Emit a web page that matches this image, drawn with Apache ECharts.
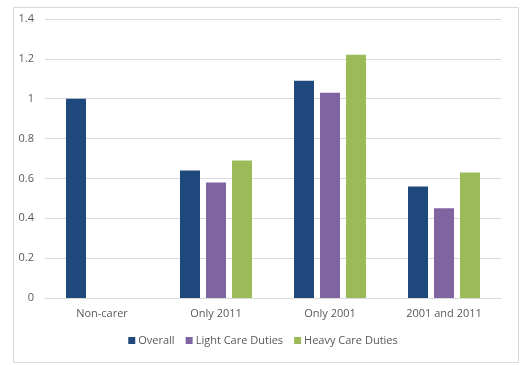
<!DOCTYPE html>
<html><head><meta charset="utf-8">
<script src="https://cdn.jsdelivr.net/npm/echarts@6/dist/echarts.min.js"></script>
<style>html,body{margin:0;padding:0;background:#fff}#c{width:526px;height:365px}</style>
</head><body><div id="c"></div>
<script>
const categories = ['Non-carer', 'Only 2011', 'Only 2001', '2001 and 2011'];
const overall = [1.00, 0.64, 1.09, 0.56];
const lightCare = [null, 0.58, 1.03, 0.45];
const heavyCare = [null, 0.69, 1.22, 0.63];
const seriesNames = ['Overall', 'Light Care Duties', 'Heavy Care Duties'];
const colors = ['#1F497D', '#8064A2', '#9BBB59'];

const font = 'Open Sans, Liberation Sans, sans-serif';
const chart = echarts.init(document.getElementById('c'));
chart.setOption({
  animation: false,
  color: colors,
  graphic: [{
    type: 'rect', left: 11, top: 5,
    shape: { width: 505, height: 355 },
    style: { fill: 'none', stroke: '#D9D9D9', lineWidth: 1 }
  }],
  grid: { left: 45, right: 25, top: 19, bottom: 67 },
  legend: {
    bottom: 14, left: 'center',
    itemWidth: 7, itemHeight: 7, itemGap: 11,
    icon: 'rect',
    textStyle: { color: '#595959', fontSize: 11, fontFamily: font, padding: [0, 0, 0, -2] },
    data: seriesNames
  },
  xAxis: {
    type: 'category', data: categories,
    axisLine: { lineStyle: { color: '#D9D9D9' } },
    axisTick: { show: false },
    axisLabel: { color: '#595959', fontSize: 11, fontFamily: font, margin: 10 }
  },
  yAxis: {
    type: 'value', min: 0, max: 1.4, interval: 0.2,
    axisLine: { show: false }, axisTick: { show: false },
    splitLine: { lineStyle: { color: '#D9D9D9' } },
    axisLabel: { color: '#595959', fontSize: 11, fontFamily: font, margin: 11,
      formatter: v => String(Math.round(v * 10) / 10) }
  },
  series: [
    { name: seriesNames[0], type: 'bar', data: overall, barWidth: 20, barGap: '30%' },
    { name: seriesNames[1], type: 'bar', data: lightCare, barWidth: 20, barGap: '30%' },
    { name: seriesNames[2], type: 'bar', data: heavyCare, barWidth: 20, barGap: '30%' }
  ]
});
</script></body></html>
